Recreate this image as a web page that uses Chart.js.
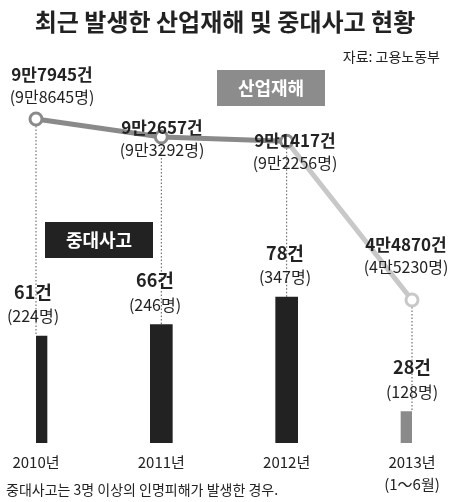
<!DOCTYPE html>
<html><head><meta charset="utf-8">
<script src="https://cdn.jsdelivr.net/npm/chart.js@4/dist/chart.umd.min.js"></script>
<style>html,body{margin:0;padding:0;background:#fff}#wrap{width:450px;height:502px}</style>
</head><body><div id="wrap"><canvas id="c"></canvas></div>
<script>
// 데이터
const years = ['2010년', '2011년', '2012년', '2013년'];
const yearSub = ['', '', '', '(1～6월)'];
const accidents = [97945, 92657, 91417, 44870];      // 산업재해 건수
const accLabel = ['9만7945건', '9만2657건', '9만1417건', '4만4870건'];
const accPeople = ['(9만8645명)', '(9만3292명)', '(9만2256명)', '(4만5230명)'];
const major = [61, 66, 78, 28];                      // 중대사고 건수
const majorPeople = ['(224명)', '(246명)', '(347명)', '(128명)'];

const FONT = '"Noto Sans CJK KR", "Noto Sans", sans-serif';

// 텍스트, 점선, 박스 그리기
const overlay = {
	id: 'overlay',
	beforeDatasetsDraw(chart) {
		const ctx = chart.ctx;
		const line = chart.getDatasetMeta(1).data;
		const bars = chart.getDatasetMeta(0).data;
		ctx.save();
		ctx.strokeStyle = '#555';
		ctx.lineWidth = 1;
		ctx.setLineDash([1.5, 2]);
		line.forEach((p, i) => {
			ctx.beginPath();
			ctx.moveTo(p.x, p.y);
			ctx.lineTo(p.x, bars[i].y);
			ctx.stroke();
		});
		ctx.restore();
	},
	afterDraw(chart) {
		const ctx = chart.ctx;
		const bars = chart.getDatasetMeta(0).data;
		ctx.save();
		ctx.fillStyle = '#222';
		ctx.textBaseline = 'middle';
		ctx.textAlign = 'center';
		ctx.font = 'bold 24px ' + FONT;
		ctx.fillText('최근 발생한 산업재해 및 중대사고 현황', 225, 22);
		ctx.textAlign = 'right';
		ctx.font = '14px ' + FONT;
		ctx.fillText('자료: 고용노동부', 440, 57);

		// 산업재해 라벨 (원본 위치)
		const accX = [52, 162, 295, 406];
		const accY = [75, 128, 141, 245];
		accX.forEach((x, i) => {
			ctx.textAlign = 'center';
			ctx.font = 'bold 17px ' + FONT;
			ctx.fillText(accLabel[i], x, accY[i]);
			ctx.font = '16px ' + FONT;
			ctx.fillText(accPeople[i], x, accY[i] + 22);
		});
		// 중대사고 라벨
		const barX = [33, 155, 285, 412];
		bars.forEach((b, i) => {
			ctx.textAlign = 'center';
			ctx.font = 'bold 18px ' + FONT;
			ctx.fillText(major[i] + '건', barX[i], b.y - 44);
			ctx.font = '16px ' + FONT;
			ctx.fillText(majorPeople[i], barX[i], b.y - 20);
		});
		// x축 라벨
		const xs = chart.scales.x;
		years.forEach((y, i) => {
			const x = xs.getPixelForValue(i);
			ctx.font = '15px ' + FONT;
			ctx.fillText(y, x, 462);
			if (yearSub[i]) ctx.fillText(yearSub[i], x, 484);
		});
		ctx.textAlign = 'left';
		ctx.font = '14px ' + FONT;
		ctx.fillText('중대사고는 3명 이상의 인명피해가 발생한 경우.', 6, 490);

		// 범례 박스
		ctx.fillStyle = '#8c8c8c';
		ctx.fillRect(217, 70, 108, 36);
		ctx.fillStyle = '#222';
		ctx.fillRect(45, 222, 108, 36);
		ctx.fillStyle = '#fff';
		ctx.textAlign = 'center';
		ctx.font = 'bold 18px ' + FONT;
		ctx.fillText('산업재해', 271, 88);
		ctx.fillText('중대사고', 99, 240);
		ctx.restore();
	}
};

new Chart(document.getElementById('c'), {
	data: {
		labels: years,
		datasets: [{
			type: 'bar',
			data: major,
			yAxisID: 'yb',
			backgroundColor: ['#222', '#222', '#222', '#8a8a8a'],
			barThickness: 22,
			order: 2
		}, {
			type: 'line',
			data: accidents,
			yAxisID: 'yl',
			borderWidth: 5,
			borderColor: '#8a8a8a',
			segment: {
				borderColor: c => c.p0DataIndex === 2 ? '#c8c8c8' : '#8a8a8a'
			},
			pointRadius: 6,
			pointBorderWidth: 3,
			pointBackgroundColor: '#fff',
			pointBorderColor: ['#8a8a8a', '#8a8a8a', '#8a8a8a', '#c8c8c8'],
			order: 1
		}]
	},
	options: {
		responsive: true,
		maintainAspectRatio: false,
		animation: false,
		layout: { padding: { left: 36, right: 38, top: 60, bottom: 59 } },
		plugins: { legend: { display: false }, tooltip: { enabled: false } },
		scales: {
			x: { display: false, offset: false },
			yl: { display: false, min: 2935, max: 115252 },
			yb: { display: false, min: 14.3, max: 181.5 }
		}
	},
	plugins: [overlay]
});
</script>
</body></html>
